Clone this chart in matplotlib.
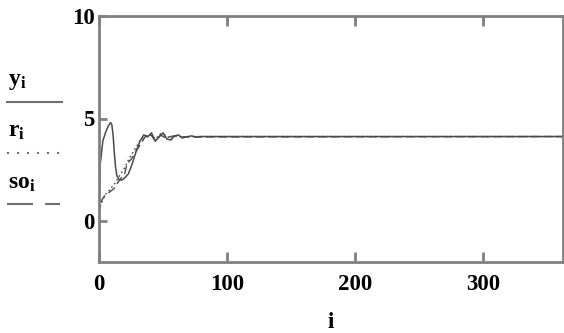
import matplotlib
matplotlib.use('Agg')
import matplotlib.pyplot as plt
from matplotlib.lines import Line2D

# step index and the three responses
i_y = [0, 1, 3, 5, 7, 9, 10, 11, 12, 13, 14, 16, 18, 20, 23, 26, 29, 32, 35,
       38, 41, 44, 47, 50, 53, 56, 59, 62, 65, 68, 72, 76, 80, 363]
y = [0.4, 2.8, 3.9, 4.3, 4.6, 4.8, 4.7, 4.2, 3.3, 2.6, 2.2, 2.0, 2.0, 2.1, 2.3,
     2.8, 3.4, 3.9, 4.2, 4.1, 4.3, 3.9, 4.1, 4.3, 4.0, 3.95, 4.15, 4.2, 4.05,
     4.1, 4.15, 4.1, 4.12, 4.12]

i_r = [0, 2, 5, 8, 12, 16, 20, 24, 28, 32, 36, 40, 44, 48, 52, 56, 60, 66, 72, 363]
r = [0.5, 0.9, 1.3, 1.5, 1.8, 2.2, 2.6, 3.1, 3.5, 3.9, 4.15, 4.2, 4.0, 4.25,
     4.2, 4.0, 4.15, 4.1, 4.12, 4.12]

i_so = [0, 2, 4, 8, 12, 16, 20, 22, 25, 28, 32, 36, 40, 44, 48, 52, 58, 64, 363]
so = [0.3, 1.0, 1.2, 1.4, 1.6, 2.0, 2.3, 2.8, 3.0, 3.3, 3.7, 4.1, 4.25, 3.9,
      4.2, 4.05, 4.15, 4.1, 4.12]

x_ticks = [100, 200, 300]
y_ticks = [0, 5, 10]

plt.rcParams['font.family'] = ['Liberation Serif', 'DejaVu Serif']
plt.rcParams['font.weight'] = 'bold'
plt.rcParams['mathtext.fontset'] = 'custom'
plt.rcParams['mathtext.rm'] = 'Liberation Serif:bold'
plt.rcParams['mathtext.it'] = 'Liberation Serif:bold'
plt.rcParams['mathtext.bf'] = 'Liberation Serif:bold'

W, H = 564, 333
fig = plt.figure(figsize=(W / 100, H / 100), dpi=100)
ax = fig.add_axes([99 / W, (H - 262) / H, (563 - 99) / W, (262 - 16) / H])

line_col = '#4a4a4a'
ax.plot(i_y, y, color=line_col, lw=1.1)
ax.plot(i_r, r, color=line_col, lw=1.0, linestyle=(0, (1.2, 2)))
ax.plot(i_so, so, color=line_col, lw=1.0, linestyle=(0, (6, 3)))

ax.set_xlim(0, 362.5)
ax.set_ylim(-2, 10)

axis_col = '#808080'
for side, sp in ax.spines.items():
    sp.set_color(axis_col)
    sp.set_linewidth(2)

ax.set_xticks([0] + x_ticks)
ax.set_xticklabels(['0', '100', '200', '300'])
ax.set_yticks(y_ticks)
ax.set_yticklabels(['0', '5', '10'])
ax.tick_params(axis='x', direction='in', length=7, width=2, color=axis_col,
               top=True, labelsize=16.5, pad=9)
ax.tick_params(axis='y', direction='in', length=6, width=2, color=axis_col,
               labelsize=16.5, pad=3)
ax.set_xlabel('i', fontsize=16.5, fontweight='bold', labelpad=12)

# Mathcad-style legend on the left
fs = 17
fig.text(8 / W, 1 - 81 / H, r'$\mathrm{y_i}$', fontsize=fs, va='center')
fig.text(8 / W, 1 - 131 / H, r'$\mathrm{r_i}$', fontsize=fs, va='center')
fig.text(8 / W, 1 - 183 / H, r'$\mathrm{so_i}$', fontsize=fs, va='center')
fig.add_artist(Line2D([7 / W, 62 / W], [1 - 102 / H] * 2, color='#707070', lw=1.5))
fig.add_artist(Line2D([7 / W, 60 / W], [1 - 153 / H] * 2, color='#707070', lw=1.5,
                      linestyle=(0, (1, 3.8))))
fig.add_artist(Line2D([7 / W, 60 / W], [1 - 204 / H] * 2, color='#707070', lw=1.5,
                      linestyle=(0, (12.5, 5.8))))

fig.savefig('out.png', dpi=100)
